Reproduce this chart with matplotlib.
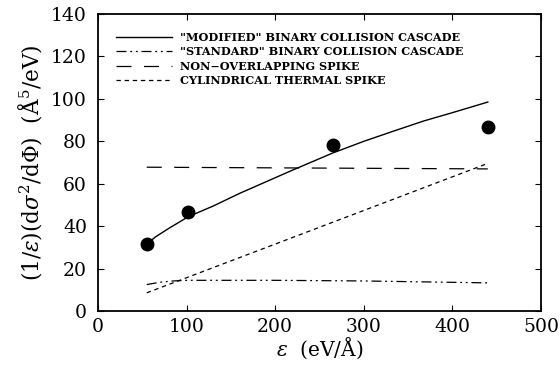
import matplotlib
matplotlib.use("Agg")
import matplotlib.pyplot as plt

plt.rcParams['font.family'] = ['DejaVu Serif']
plt.rcParams['mathtext.fontset'] = 'dejavuserif'

# measured points
pts_x = [55, 102, 265, 440]
pts_y = [31.5, 46.5, 78.2, 86.8]

# "modified" binary collision cascade
mod_x = [55, 65, 80, 102, 130, 160, 190, 220, 265, 300, 335, 367, 400, 440]
mod_y = [31.5, 35.0, 39.0, 44.5, 49.5, 55.5, 61.0, 66.5, 74.5, 80.0, 85.0, 89.5, 93.5, 98.5]

# "standard" binary collision cascade
std_x = [55, 70, 85, 100, 200, 300, 440]
std_y = [12.5, 13.6, 14.2, 14.5, 14.5, 14.2, 13.3]

# non-overlapping spike
nos_x = [55, 440]
nos_y = [67.8, 67.0]

# cylindrical thermal spike
cts_x = [55, 440]
cts_y = [8.6, 69.6]

fig = plt.figure(figsize=(5.6, 3.78), dpi=100)
ax = fig.add_axes([0.175, 0.177, 0.791, 0.786])

ax.plot(mod_x, mod_y, color='black', lw=1.0, ls='-',
        label='"MODIFIED" BINARY COLLISION CASCADE')
ax.plot(std_x, std_y, color='black', lw=0.9, ls=(0, (8, 3, 1.5, 3, 1.5, 3)),
        label='"STANDARD" BINARY COLLISION CASCADE')
ax.plot(nos_x, nos_y, color='black', lw=0.9, ls=(0, (12, 10)),
        label='NON\u2212OVERLAPPING SPIKE')
ax.plot(cts_x, cts_y, color='black', lw=0.9, ls=(0, (3.5, 3)),
        label='CYLINDRICAL THERMAL SPIKE')
ax.plot(pts_x, pts_y, 'o', color='black', ms=9, zorder=5)

ax.set_xlim(0, 500)
ax.set_ylim(0, 140)
ax.set_xticks([0, 100, 200, 300, 400, 500])
ax.set_yticks([0, 20, 40, 60, 80, 100, 120, 140])
ax.tick_params(direction='in', top=True, right=True, labelsize=13.5, length=4, width=0.8)
ax.tick_params(axis='y', pad=8)
ax.tick_params(axis='x', pad=5)
for s in ax.spines.values():
    s.set_linewidth(1.3)

ax.set_xlabel(r'$\epsilon$  (eV/Å)', fontsize=14.5, labelpad=0)
ax.set_ylabel(r'(1/$\epsilon$)(d$\sigma^2$/d$\Phi$)  (Å$^5$/eV)', fontsize=15.5, labelpad=5)

leg = ax.legend(loc='upper left', frameon=False, handlelength=5.0,
                labelspacing=0.3, borderaxespad=1.2, handletextpad=0.7,
                prop={'weight': 'bold', 'size': 8.1})

fig.savefig('out.png', dpi=100)
